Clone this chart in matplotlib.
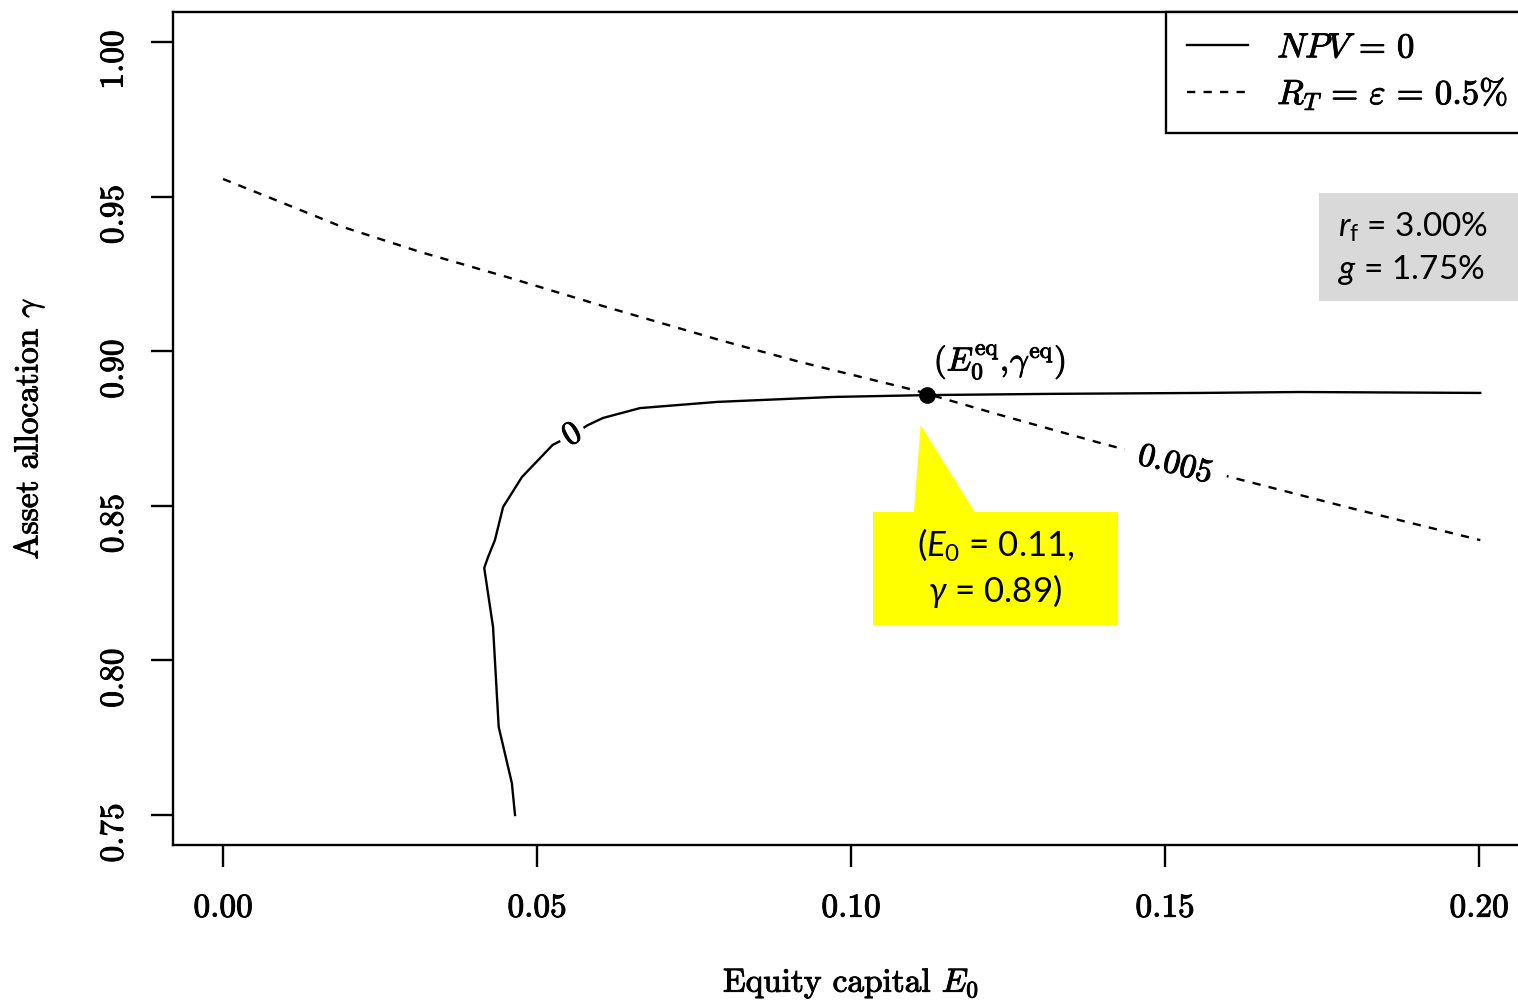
import matplotlib
matplotlib.use("Agg")
import matplotlib.pyplot as plt
import matplotlib.patheffects as pe
from matplotlib.patches import Polygon, Rectangle
from matplotlib.lines import Line2D

# NPV = 0 contour (E0, gamma)
npv_e0 = [0.0465, 0.0460, 0.0439, 0.0430, 0.0416, 0.0422, 0.0433, 0.0446, 0.0476,
          0.0525, 0.0556, 0.0581, 0.0605, 0.0664, 0.0787, 0.0971, 0.1121, 0.1317,
          0.1556, 0.1715, 0.2002]
npv_gamma = [0.7500, 0.7603, 0.7785, 0.8108, 0.8299, 0.8334, 0.8389, 0.8496, 0.8593,
             0.8697, 0.8729, 0.8761, 0.8784, 0.8816, 0.8836, 0.8852, 0.8858, 0.8862,
             0.8865, 0.8868, 0.8865]

# R_T = 0.5% contour
rt_e0 = [0.0, 0.0091, 0.0186, 0.0314, 0.0452, 0.0600, 0.0791, 0.0919, 0.1099,
         0.1237, 0.1397, 0.1604, 0.1795, 0.2002]
rt_gamma = [0.9557, 0.9483, 0.9405, 0.9321, 0.9240, 0.9149, 0.9036, 0.8965, 0.8875,
            0.8794, 0.8703, 0.8593, 0.8493, 0.8389]

# equilibrium point
eq_e0 = 0.1121
eq_gamma = 0.8858

x_ticks = [0.00, 0.05, 0.10, 0.15, 0.20]
y_ticks = [0.75, 0.80, 0.85, 0.90, 0.95, 1.00]

npv_label = "0"
npv_label_pos = (0.0556, 0.8729)
rt_label = "0.005"
rt_label_pos = (0.1516, 0.8632)

plt.rcParams['font.family'] = 'cmr10'
plt.rcParams['mathtext.fontset'] = 'cm'
plt.rcParams['mathtext.rm'] = 'Lato'
plt.rcParams['mathtext.it'] = 'Lato:italic'
plt.rcParams['axes.unicode_minus'] = False

fs = 24
lw = 1.7
# the pdf text in the original renders a bit heavier
heavy = [pe.withStroke(linewidth=0.7, foreground='black')]

fig = plt.figure(figsize=(15.18, 10), dpi=100)
ax = fig.add_axes([173/1518, 155/1000, 1356/1518, 833/1000])

ax.plot(npv_e0, npv_gamma, color='black', lw=lw)
ax.plot(rt_e0, rt_gamma, color='black', lw=lw, linestyle=(0, (3.5, 3.5)))

# contour labels, white box breaks the line like R does
ax.text(npv_label_pos[0], npv_label_pos[1], npv_label, fontsize=fs, rotation=30,
        ha='center', va='center', rotation_mode='anchor', path_effects=heavy,
        bbox=dict(boxstyle='square,pad=0.15', fc='white', ec='none'))
ax.text(rt_label_pos[0], rt_label_pos[1], rt_label, fontsize=fs, rotation=-15,
        ha='center', va='center', rotation_mode='anchor', path_effects=heavy,
        bbox=dict(boxstyle='square,pad=0.45', fc='white', ec='none'))

ax.plot([eq_e0], [eq_gamma], 'o', color='black', markersize=11)
ax.text(eq_e0 + 0.0116, eq_gamma + 0.0107, r'$(E_0^{\mathrm{eq}},\!\gamma^{\mathrm{eq}})$',
        fontsize=fs, ha='center', va='center', path_effects=heavy)

# yellow callout
bx0, bx1 = eq_e0 - 0.0086, eq_e0 + 0.0304
by0, by1 = eq_gamma - 0.0744, eq_gamma - 0.0378
callout = Polygon([(bx0, by0), (bx1, by0), (bx1, by1), (eq_e0 + 0.0076, by1),
                   (eq_e0 - 0.0010, eq_gamma - 0.0097), (eq_e0 - 0.0021, by1), (bx0, by1)],
                  closed=True, fc='#ffff00', ec='none', zorder=3)
ax.add_patch(callout)
ax.text((bx0 + bx1) / 2, (by0 + by1) / 2,
        '($E_0$ = %.2f,\n$\\gamma$ = %.2f)' % (eq_e0, eq_gamma),
        fontsize=25, family='Lato', math_fontfamily='custom',
        ha='center', va='center', linespacing=1.3, zorder=4)

# parameter box
ax.add_patch(Rectangle((0.8451, 0.6531), 0.16, 0.1296, transform=ax.transAxes,
                       fc='#d9d9d9', ec='none', clip_on=False))
ax.text(0.8591, 0.7419, r'$r_\mathrm{f}$ = 3.00%', transform=ax.transAxes,
        fontsize=24, family='Lato', math_fontfamily='custom', ha='left', va='center')
ax.text(0.8591, 0.6903, r'$g$ = 1.75%', transform=ax.transAxes,
        fontsize=24, family='Lato', math_fontfamily='custom', ha='left', va='center')

handles = [Line2D([], [], color='black', lw=lw),
           Line2D([], [], color='black', lw=lw, linestyle=(0, (3.5, 3.5)))]
leg = ax.legend(handles, [r'$NPV\,=\,0$', r'$R_T\,=\,\varepsilon\,=\,0.5\%$'],
                loc='upper right', bbox_to_anchor=(1, 1), borderaxespad=0,
                fancybox=False, edgecolor='black', framealpha=1, fontsize=25,
                handlelength=1.76, handletextpad=0.84, borderpad=0.6, labelspacing=0.3)
leg.get_frame().set_linewidth(lw)
for t in leg.get_texts():
    t.set_path_effects(heavy)

ax.set_xlim(-0.00796, 0.20796)
ax.set_ylim(0.7403, 1.0097)
ax.set_xticks(x_ticks)
ax.set_xticklabels(['%.2f' % v for v in x_ticks])
ax.set_yticks(y_ticks)
ax.set_yticklabels(['%.2f' % v for v in y_ticks])
ax.tick_params(axis='both', direction='out', length=16, width=lw, labelsize=fs)
ax.tick_params(axis='x', pad=19)
ax.tick_params(axis='y', pad=16, labelrotation=90)
for s in ax.spines.values():
    s.set_linewidth(lw)
for t in ax.get_xticklabels() + ax.get_yticklabels():
    t.set_path_effects(heavy)

ax.set_xlabel(r'Equity capital $E_0$', fontsize=fs, path_effects=heavy)
ax.xaxis.set_label_coords((851 - 173) / 1356, (845 - 966) / 833)
ax.set_ylabel(r'Asset allocation $\gamma$', fontsize=fs, path_effects=heavy)
ax.yaxis.set_label_coords((12 - 173) / 1356, 0.5)
ax.yaxis.label.set_va('top')

fig.savefig('out.png', dpi=100)
